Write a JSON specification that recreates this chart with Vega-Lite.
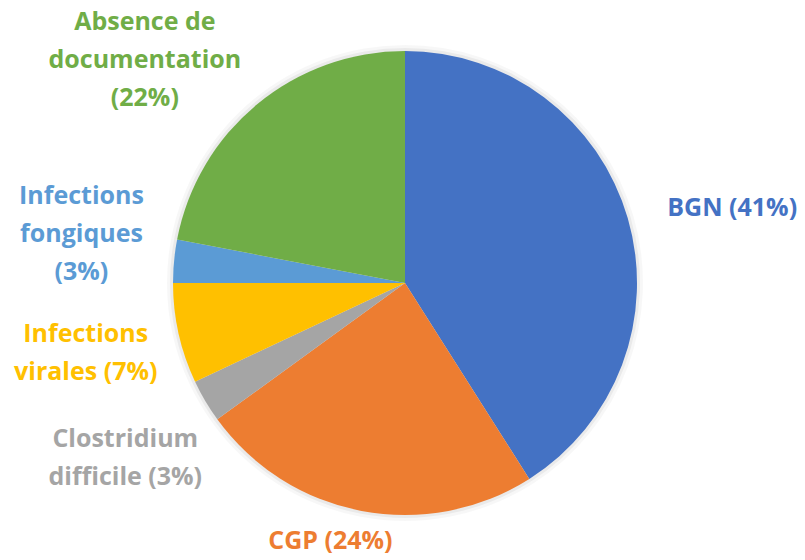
{
  "$schema": "https://vega.github.io/schema/vega-lite/v6.json",
  "width": 800,
  "height": 554,
  "autosize": {"type": "none"},
  "padding": {"left": 5, "top": 6, "right": 0, "bottom": 0},
  "background": "white",
  "view": {"stroke": null},
  "data": {"values": [
    {"cat": "BGN", "v": 41, "o": 1, "label": "BGN (41%)"},
    {"cat": "CGP", "v": 24, "o": 2, "label": "CGP (24%)"},
    {"cat": "Clostridium difficile", "v": 3, "o": 3, "label": "Clostridium\ndifficile (3%)"},
    {"cat": "Infections virales", "v": 7, "o": 4, "label": "Infections\nvirales (7%)"},
    {"cat": "Infections fongiques", "v": 3, "o": 5, "label": "Infections\nfongiques\n(3%)"},
    {"cat": "Absence de documentation", "v": 22, "o": 6, "label": "Absence de\ndocumentation\n(22%)"}
  ]},
  "encoding": {
    "theta": {"field": "v", "type": "quantitative", "stack": true},
    "order": {"field": "o", "type": "quantitative"},
    "color": {
      "field": "cat", "type": "nominal", "legend": null,
      "scale": {
        "domain": ["BGN", "CGP", "Clostridium difficile", "Infections virales", "Infections fongiques", "Absence de documentation"],
        "range": ["#4472C4", "#ED7D31", "#A5A5A5", "#FFC000", "#5B9BD5", "#70AD47"]
      }
    }
  },
  "layer": [
    {"mark": {"type": "arc", "radius": 238, "fill": "#000000", "fillOpacity": 0.03, "strokeWidth": 0}},
    {"mark": {"type": "arc", "radius": 235, "fill": "#000000", "fillOpacity": 0.05, "strokeWidth": 0}},
    {"mark": {"type": "arc", "radius": 232, "strokeWidth": 0}},
    {"mark": {"type": "text", "radius": 322, "dx": 18, "dy": 15, "font": "Open Sans", "fontWeight": "bold", "fontSize": 25, "lineBreak": "\n", "lineHeight": 38, "align": "center", "baseline": "middle"},
     "encoding": {"text": {"condition": {"test": "datum.cat === 'BGN'", "field": "label"}, "value": ""}}},
    {"mark": {"type": "text", "radius": 265, "dx": -25, "dy": -2, "font": "Open Sans", "fontWeight": "bold", "fontSize": 25, "lineBreak": "\n", "lineHeight": 38, "align": "center", "baseline": "middle"},
     "encoding": {"text": {"condition": {"test": "datum.cat === 'CGP'", "field": "label"}, "value": ""}}},
    {"mark": {"type": "text", "radius": 325, "dx": 0, "dy": -9, "font": "Open Sans", "fontWeight": "bold", "fontSize": 25, "lineBreak": "\n", "lineHeight": 38, "align": "center", "baseline": "middle"},
     "encoding": {"text": {"condition": {"test": "datum.cat === 'Clostridium difficile'", "field": "label"}, "value": ""}}},
    {"mark": {"type": "text", "radius": 322, "dx": -5, "dy": -19, "font": "Open Sans", "fontWeight": "bold", "fontSize": 25, "lineBreak": "\n", "lineHeight": 38, "align": "center", "baseline": "middle"},
     "encoding": {"text": {"condition": {"test": "datum.cat === 'Infections virales'", "field": "label"}, "value": ""}}},
    {"mark": {"type": "text", "radius": 325, "dx": 0, "dy": -56, "font": "Open Sans", "fontWeight": "bold", "fontSize": 25, "lineBreak": "\n", "lineHeight": 38, "align": "center", "baseline": "middle"},
     "encoding": {"text": {"condition": {"test": "datum.cat === 'Infections fongiques'", "field": "label"}, "value": ""}}},
    {"mark": {"type": "text", "radius": 325, "dx": -53, "dy": -11, "font": "Open Sans", "fontWeight": "bold", "fontSize": 25, "lineBreak": "\n", "lineHeight": 38, "align": "center", "baseline": "middle"},
     "encoding": {"text": {"condition": {"test": "datum.cat === 'Absence de documentation'", "field": "label"}, "value": ""}}}
  ]
}
